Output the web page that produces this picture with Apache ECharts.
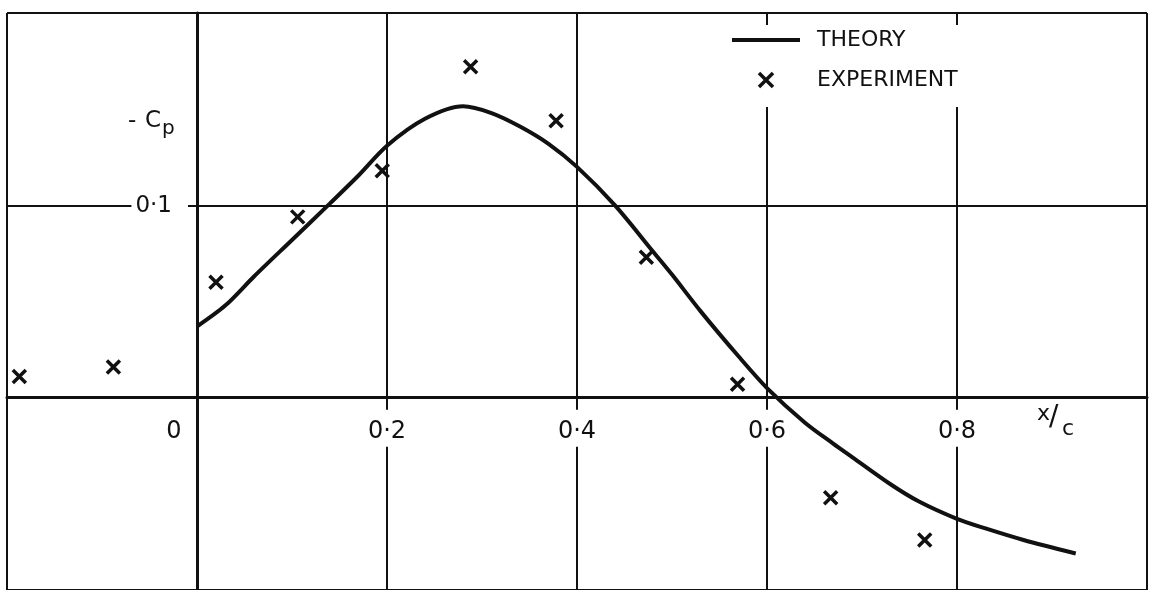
<!DOCTYPE html>
<html>
<head>
<meta charset="utf-8">
<script src="https://cdn.jsdelivr.net/npm/echarts@6/dist/echarts.min.js"></script>
<style>
    html, body { margin: 0; padding: 0; background: #fff; }
    #chart { width: 1154px; height: 590px; }
</style>
</head>
<body>
<div id="chart"></div>
<script>
// theory curve
const theoryX = [0, 0.03, 0.06, 0.10, 0.14, 0.17, 0.20, 0.24, 0.28, 0.31, 0.34, 0.37, 0.40, 0.44,
    0.48, 0.50, 0.53, 0.57, 0.60, 0.64, 0.67, 0.69, 0.73, 0.76, 0.80, 0.83, 0.87, 0.925];
const theoryY = [0.037, 0.048, 0.063, 0.082, 0.101, 0.1155, 0.131, 0.145, 0.1515, 0.148, 0.141, 0.132, 0.120, 0.100,
    0.076, 0.064, 0.045, 0.0215, 0.005, -0.013, -0.024, -0.031, -0.045, -0.054, -0.063, -0.068, -0.074, -0.081];

// experiment points
const expX = [-0.187, -0.088, 0.020, 0.106, 0.195, 0.288, 0.378, 0.473, 0.569, 0.667, 0.766];
const expY = [0.011, 0.016, 0.060, 0.094, 0.118, 0.172, 0.144, 0.073, 0.007, -0.052, -0.074];

// tick labels
const xTickValues = [0, 0.2, 0.4, 0.6, 0.8];
const xTickLabels = ['0', '0·2', '0·4', '0·6', '0·8'];
const yTickValues = [0.1];
const yTickLabels = ['0·1'];

const seriesNames = ['THEORY', 'EXPERIMENT'];

const INK = '#111';
const FONT = '"DejaVu Sans", sans-serif';
const CROSS = 'path://M0,0L10,10M10,0L0,10';

const chart = echarts.init(document.getElementById('chart'));

const pick = (values, labels, v) => {
    const i = values.findIndex(t => Math.abs(t - v) < 1e-6);
    return i < 0 ? null : labels[i];
};

// axes cross at the origin, which sits 1/3 up and 1/6 across the grid
const GRID = { left: 7, right: 7, top: 13, bottom: 0 };
const gridW = 1154 - GRID.left - GRID.right;
const gridH = 590 - GRID.top - GRID.bottom;

chart.setOption({
    animation: false,
    backgroundColor: '#fff',
    grid: Object.assign({ containLabel: false, outerBoundsMode: 'none' }, GRID),
    xAxis: {
        type: 'value',
        min: -0.2,
        max: 1.0,
        interval: 0.2,
        offset: -gridH * (0.1 / 0.3),
        axisLine: { onZero: false, lineStyle: { color: INK, width: 3 } },
        axisTick: { show: false },
        splitLine: { lineStyle: { color: INK, width: 2 } },
        axisLabel: {
            margin: 12,
            formatter: v => {
                const s = pick(xTickValues, xTickLabels, v);
                if (s === null) return '';
                return v === 0 ? '{z|' + s + '}' : '{n|' + s + '}';
            },
            rich: {
                n: { fontFamily: FONT, fontSize: 24, color: INK, backgroundColor: '#fff', padding: [10, 4, 3, 4] },
                z: { fontFamily: FONT, fontSize: 24, color: INK, padding: [10, 46, 3, 0] }
            }
        }
    },
    yAxis: {
        type: 'value',
        min: -0.1,
        max: 0.2,
        interval: 0.1,
        offset: -gridW * (0.2 / 1.2),
        axisLine: { onZero: false, lineStyle: { color: INK, width: 3 } },
        axisTick: { show: false },
        splitLine: { lineStyle: { color: INK, width: 2 } },
        axisLabel: {
            margin: 9,
            formatter: v => {
                const s = pick(yTickValues, yTickLabels, v);
                return s === null ? '' : '{n|' + s + '}';
            },
            rich: {
                n: { fontFamily: FONT, fontSize: 23, color: INK, backgroundColor: '#fff', padding: [4, 16, 2, 4] }
            }
        }
    },
    legend: {
        orient: 'vertical',
        left: 725,
        top: 25,
        padding: [4, 12, 16, 7],
        backgroundColor: '#fff',
        itemWidth: 68,
        itemHeight: 14,
        itemGap: 18,
        textStyle: { fontFamily: FONT, fontSize: 22, color: INK, padding: [0, 0, 0, 12] },
        data: [
            { name: seriesNames[0], icon: 'path://M0,0L68,0L68,4L0,4Z' },
            { name: seriesNames[1], itemStyle: { borderWidth: 3.5, borderColor: INK } }
        ]
    },
    graphic: [
        { type: 'text', left: 128, top: 110, style: { text: '-', font: '23px ' + FONT, fill: INK } },
        { type: 'text', left: 145, top: 110, style: { text: 'C', font: '23px ' + FONT, fill: INK } },
        { type: 'text', left: 162, top: 119, style: { text: 'p', font: '20px ' + FONT, fill: INK } },
        { type: 'text', left: 1037, top: 403, style: { text: 'x', font: '22px ' + FONT, fill: INK } },
        { type: 'text', left: 1049, top: 404, style: { text: '/', font: '28px ' + FONT, fill: INK } },
        { type: 'text', left: 1062, top: 418, style: { text: 'c', font: '22px ' + FONT, fill: INK } }
    ],
    series: [
        {
            name: seriesNames[0],
            type: 'line',
            data: theoryX.map((x, i) => [x, theoryY[i]]),
            smooth: 0.3,
            symbol: 'none',
            lineStyle: { color: INK, width: 4 },
            itemStyle: { color: INK },
            z: 3
        },
        {
            name: seriesNames[1],
            type: 'scatter',
            data: expX.map((x, i) => [x, expY[i]]),
            symbol: CROSS,
            symbolSize: 13,
            itemStyle: { color: INK, borderColor: INK, borderWidth: 3.5, opacity: 1 },
            z: 4
        }
    ]
});
</script>
</body>
</html>
